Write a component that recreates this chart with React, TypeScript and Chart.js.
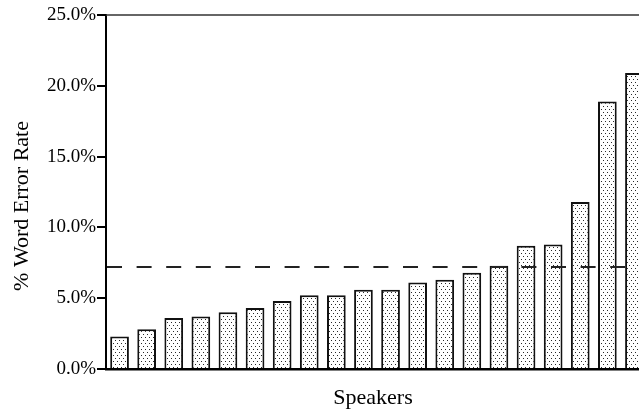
import React, { useEffect, useRef } from "react";
import { Chart, registerables } from "chart.js";

Chart.register(...registerables);

const speakers: string[] = [
  "S1", "S2", "S3", "S4", "S5", "S6", "S7", "S8", "S9", "S10",
  "S11", "S12", "S13", "S14", "S15", "S16", "S17", "S18", "S19", "S20",
];
const werValues: number[] = [
  2.3, 2.8, 3.6, 3.7, 4.0, 4.3, 4.8, 5.2, 5.2, 5.6,
  5.6, 6.1, 6.3, 6.8, 7.3, 8.7, 8.8, 11.8, 18.9, 20.9,
];
const MEAN_WER = 7.2;
const Y_MIN = 0;
const Y_MAX = 25;
const Y_STEP = 5;
const X_TITLE = "Speakers";
const Y_TITLE = "% Word Error Rate";

const SERIF = "'Liberation Serif', 'Times New Roman', serif";

function makeDotPattern(): CanvasPattern | string {
  const tile = document.createElement("canvas");
  tile.width = 4;
  tile.height = 6;
  const c = tile.getContext("2d");
  if (!c) return "#ddd";
  c.fillStyle = "#ffffff";
  c.fillRect(0, 0, 4, 6);
  c.fillStyle = "#2a2a2a";
  c.fillRect(1, 1, 1, 1);
  c.fillRect(3, 4, 1, 1);
  const p = c.createPattern(tile, "repeat");
  return p || "#ddd";
}

const overlayPlugin = {
  id: "overlay",
  afterDatasetsDraw(chart: any) {
    const { ctx, chartArea, scales } = chart;
    const y = scales.y.getPixelForValue(MEAN_WER);
    ctx.save();
    ctx.beginPath();
    ctx.setLineDash([15, 14.6]);
    ctx.lineWidth = 2;
    ctx.strokeStyle = "#222";
    ctx.moveTo(chartArea.left + 1, y);
    ctx.lineTo(chartArea.right, y);
    ctx.stroke();
    ctx.restore();
  },
  afterDraw(chart: any) {
    const { ctx, chartArea } = chart;
    ctx.save();
    // top frame line
    ctx.beginPath();
    ctx.lineWidth = 1.5;
    ctx.strokeStyle = "#333";
    ctx.moveTo(chartArea.left, chartArea.top);
    ctx.lineTo(chartArea.right, chartArea.top);
    ctx.stroke();
    // axis titles
    ctx.fillStyle = "#000";
    ctx.font = `22px ${SERIF}`;
    ctx.textAlign = "center";
    ctx.textBaseline = "alphabetic";
    ctx.fillText(X_TITLE, 373, 404);
    ctx.translate(28, 206);
    ctx.rotate(-Math.PI / 2);
    ctx.fillText(Y_TITLE, 0, 0);
    ctx.restore();
  },
};

export default function App() {
  const ref = useRef<HTMLCanvasElement | null>(null);

  useEffect(() => {
    if (!ref.current) return;
    const pattern = makeDotPattern();
    const chart = new Chart(ref.current, {
      type: "bar",
      data: {
        labels: speakers,
        datasets: [
          {
            data: werValues,
            backgroundColor: pattern as any,
            borderColor: "#111",
            borderWidth: 2,
            categoryPercentage: 1,
            barPercentage: 0.69,
          },
        ],
      },
      options: {
        animation: false,
        responsive: false,
        devicePixelRatio: 1,
        layout: { padding: { top: 15, left: 0, right: 0, bottom: 0 } },
        plugins: {
          legend: { display: false },
          tooltip: { enabled: false },
          title: { display: false },
        },
        scales: {
          x: {
            type: "category",
            grid: { display: false },
            border: { display: true, color: "#000", width: 2.5 },
            ticks: { display: false },
            afterFit: (s: any) => {
              s.height = 41;
            },
          },
          y: {
            min: Y_MIN,
            max: Y_MAX,
            ticks: {
              stepSize: Y_STEP,
              color: "#000",
              padding: 1,
              font: { family: SERIF, size: 19 },
              callback: (v: any) => Number(v).toFixed(1) + "%",
            },
            grid: {
              drawOnChartArea: false,
              drawTicks: true,
              tickLength: 9,
              color: "#000",
              lineWidth: 2,
            },
            border: { display: true, color: "#000", width: 2 },
            afterFit: (s: any) => {
              s.width = 106;
            },
          },
        },
      },
      plugins: [overlayPlugin],
    });
    return () => chart.destroy();
  }, []);

  return (
    <div
      style={{
        position: "fixed",
        left: 0,
        top: 0,
        width: 639,
        height: 410,
        overflow: "hidden",
        background: "#fff",
      }}
    >
      <canvas ref={ref} width={648} height={410} style={{ display: "block", width: 648, height: 410 }} />
    </div>
  );
}
